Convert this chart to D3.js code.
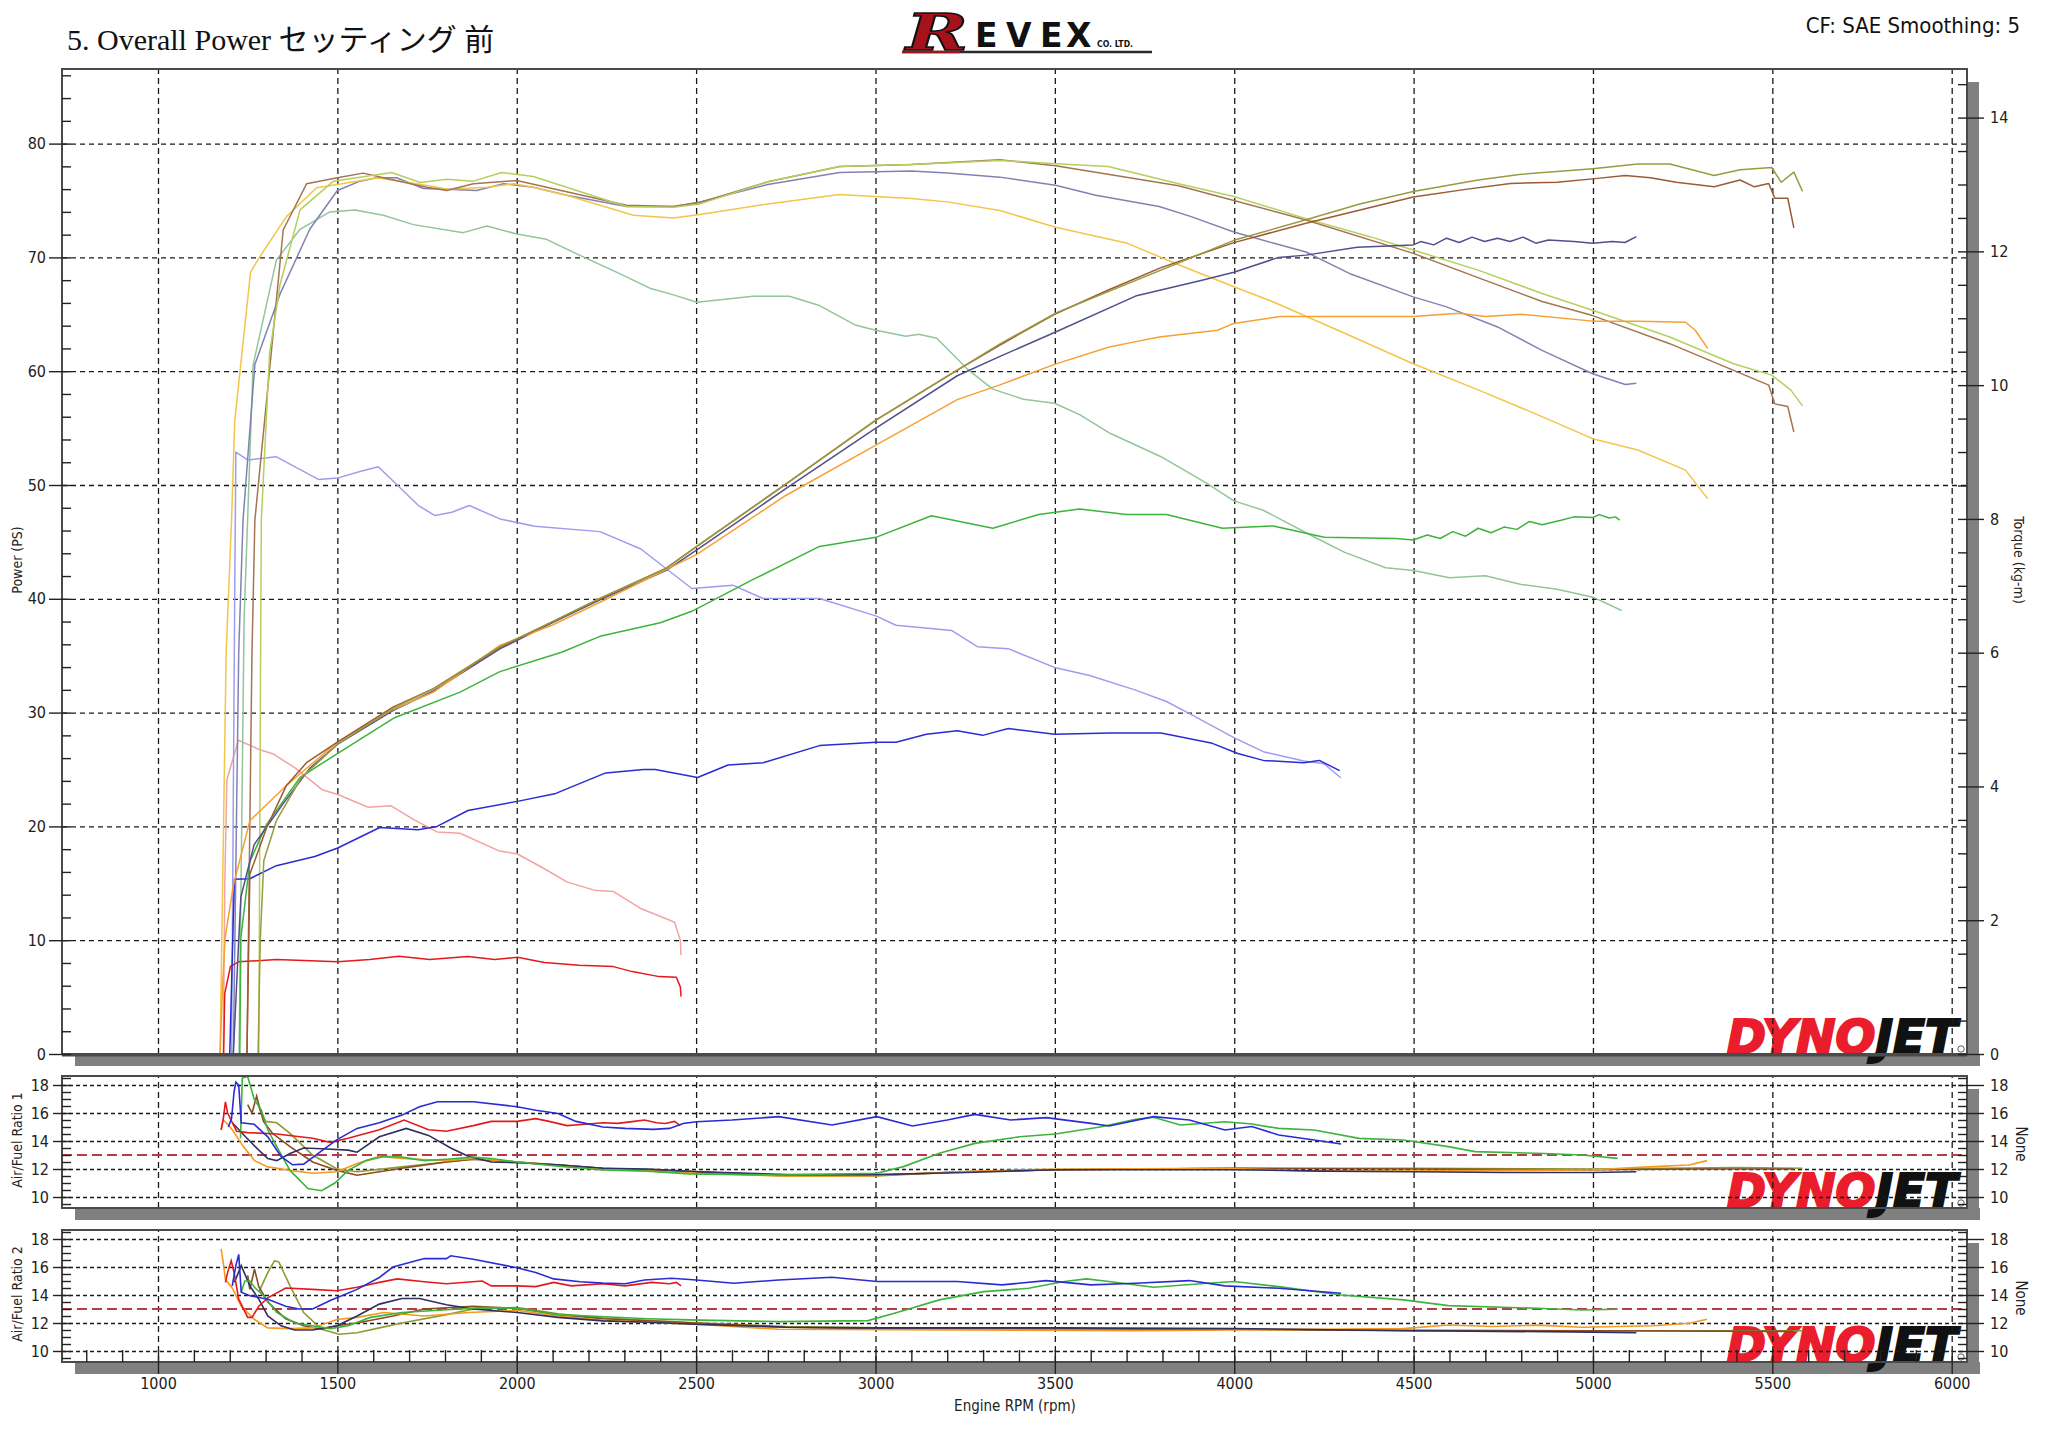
<!DOCTYPE html>
<html><head><meta charset="utf-8">
<script src="https://cdn.jsdelivr.net/npm/d3@7"></script>
<style>body{margin:0;background:#fff}svg{display:block}</style>
</head><body>
<svg id="c" width="2048" height="1448"></svg>
<script>
// ---------------- DATA (rpm, value) ----------------
const rpmTicks = [1000,1500,2000,2500,3000,3500,4000,4500,5000,5500,6000];
const powerTicks = [0,10,20,30,40,50,60,70,80];
const torqueTicks = [0,2,4,6,8,10,12,14];
const afrTicks = [10,12,14,16,18];
const afrTarget = 13;

const runNames = ["red","blue","green","navy","orange","brown","olive"];

// Power (PS)
const powerRed = [[1183,0],[1186,5.3],[1202,7.7],[1224,8.1],[1330,8.3],[1501,8.1],[1590,8.3],[1672,8.6],[1757,8.3],[1864,8.56],[1938,8.3],[2002,8.5],[2077,8.05],[2173,7.8],[2269,7.68],[2322,7.24],[2397,6.8],[2445,6.74],[2456,5.9],[2458,5.04]];
const powerBlue = [[1200,0],[1210,12],[1213,15.35],[1256,15.4],[1330,16.55],[1437,17.35],[1501,18.1],[1618,19.9],[1725,19.7],[1778,20.0],[1864,21.4],[2002,22.2],[2109,22.9],[2248,24.7],[2354,25.0],[2386,25.0],[2504,24.3],[2589,25.4],[2687,25.6],[2844,27.1],[3001,27.4],[3057,27.4],[3142,28.1],[3228,28.4],[3299,28.0],[3370,28.6],[3499,28.1],[3654,28.2],[3796,28.2],[3939,27.3],[4010,26.4],[4081,25.8],[4194,25.6],[4237,25.8],[4294,24.9]];
const powerGreen = [[1228,0],[1231,10.2],[1256,16.9],[1303,20.2],[1396,24.3],[1500,26.4],[1656,29.5],[1842,31.8],[1953,33.6],[2125,35.3],[2232,36.7],[2400,37.9],[2488,38.9],[2659,41.7],[2844,44.6],[3001,45.4],[3156,47.3],[3327,46.2],[3455,47.4],[3569,47.9],[3700,47.4],[3811,47.4],[3967,46.2],[4109,46.4],[4251,45.4],[4451,45.3],[4499,45.17],[4538,45.6],[4574,45.3],[4609,45.9],[4645,45.5],[4680,46.2],[4716,45.8],[4752,46.3],[4788,46.1],[4823,46.8],[4858,46.5],[4911,46.9],[4947,47.2],[4999,47.15],[5018,47.4],[5045,47.1],[5063,47.2],[5075,46.9]];
const powerNavy = [[1210,0],[1222,8],[1231,13.8],[1268,18.4],[1349,22.0],[1423,25.1],[1500,27.2],[1656,30.2],[1768,31.9],[1953,35.6],[2100,37.9],[2232,39.9],[2417,42.5],[2502,44.3],[2751,49.7],[3001,55.0],[3228,59.6],[3347,61.3],[3499,63.4],[3725,66.6],[3910,68.0],[3999,68.7],[4124,70.0],[4200,70.2],[4343,70.9],[4499,71.1],[4520,71.39],[4556,71.1],[4592,71.69],[4627,71.31],[4663,71.78],[4698,71.39],[4734,71.69],[4769,71.39],[4805,71.78],[4841,71.25],[4876,71.53],[4947,71.39],[4999,71.25],[5054,71.39],[5089,71.31],[5121,71.83]];
const powerOrange = [[1173,0],[1180,6],[1187,10.2],[1210,14.8],[1256,20.5],[1358,23.6],[1500,27.4],[1656,30.3],[1768,31.8],[1953,35.9],[2100,37.7],[2232,39.7],[2502,43.9],[2751,49.1],[3001,53.5],[3228,57.5],[3347,58.8],[3499,60.6],[3649,62.1],[3725,62.6],[3791,63.0],[3953,63.6],[3999,64.2],[4129,64.8],[4300,64.8],[4499,64.8],[4627,65.1],[4700,64.8],[4800,65.0],[4999,64.4],[5125,64.4],[5258,64.3],[5285,63.6],[5320,62.0]];
const powerBrown = [[1248,0],[1252,8],[1256,15.8],[1303,19.9],[1358,23.6],[1414,25.6],[1500,27.4],[1656,30.5],[1768,32.1],[1953,35.7],[2100,38.0],[2232,40.0],[2417,42.7],[2502,44.6],[2751,50.1],[3001,55.7],[3228,60.1],[3347,62.3],[3499,65.0],[3654,67.2],[3796,69.1],[3999,71.3],[4200,73.0],[4499,75.3],[4650,76.0],[4770,76.5],[4900,76.6],[4999,76.9],[5090,77.2],[5160,77.0],[5232,76.6],[5338,76.2],[5410,76.8],[5450,76.2],[5490,76.5],[5507,75.2],[5543,75.2],[5560,72.6]];
const powerOlive = [[1279,0],[1285,10],[1295,17],[1330,20.5],[1400,24.3],[1500,27.2],[1656,30.4],[1768,32.1],[1953,35.8],[2100,38.0],[2232,40.05],[2417,42.7],[2502,44.6],[2751,50.1],[3001,55.7],[3228,60.1],[3347,62.4],[3502,65.1],[3999,71.5],[4200,73.3],[4350,74.7],[4499,75.8],[4680,76.8],[4800,77.3],[4999,77.8],[5125,78.2],[5214,78.2],[5338,77.2],[5410,77.7],[5498,77.9],[5525,76.6],[5560,77.5],[5584,75.8]];

// Torque (kg-m)
const torqueRed = [[1182,0],[1186,2.5],[1192,4.10],[1224,4.69],[1288,4.54],[1320,4.49],[1384,4.27],[1458,3.95],[1501,3.88],[1586,3.69],[1650,3.71],[1714,3.50],[1778,3.32],[1842,3.30],[1949,3.04],[2002,2.99],[2077,2.77],[2141,2.57],[2216,2.45],[2269,2.43],[2344,2.18],[2440,1.97],[2456,1.70],[2458,1.48]];
const torqueBlue = [[1205,0],[1214,7.0],[1217,9.0],[1251,8.88],[1329,8.93],[1447,8.59],[1500,8.61],[1563,8.71],[1614,8.78],[1726,8.20],[1772,8.05],[1819,8.10],[1868,8.20],[1953,8.0],[2050,7.89],[2232,7.81],[2346,7.55],[2488,6.96],[2602,7.01],[2687,6.81],[2844,6.81],[3001,6.55],[3057,6.41],[3213,6.33],[3284,6.09],[3370,6.06],[3499,5.78],[3597,5.66],[3725,5.44],[3811,5.27],[3882,5.07],[3999,4.73],[4081,4.52],[4194,4.38],[4250,4.34],[4297,4.13]];
const torqueGreen = [[1226,0],[1240,6.5],[1265,10.3],[1330,11.87],[1396,12.33],[1479,12.59],[1549,12.62],[1628,12.54],[1712,12.40],[1851,12.28],[1917,12.38],[2000,12.26],[2083,12.18],[2176,11.94],[2278,11.69],[2371,11.45],[2437,11.35],[2502,11.24],[2659,11.33],[2760,11.33],[2844,11.19],[2943,10.90],[3001,10.82],[3085,10.73],[3120,10.76],[3171,10.70],[3256,10.24],[3327,9.94],[3412,9.79],[3499,9.73],[3569,9.56],[3654,9.28],[3796,8.93],[3924,8.53],[3999,8.27],[4081,8.13],[4223,7.73],[4308,7.50],[4422,7.27],[4500,7.23],[4600,7.12],[4700,7.15],[4800,7.02],[4900,6.95],[5000,6.83],[5080,6.63]];
const torqueNavy = [[1210,0],[1225,6.0],[1237,7.98],[1270,10.31],[1340,11.36],[1423,12.33],[1500,12.91],[1563,13.05],[1610,13.10],[1665,13.10],[1740,12.94],[1805,12.93],[1888,12.91],[1963,13.01],[2046,12.96],[2139,12.84],[2306,12.67],[2437,12.67],[2511,12.74],[2700,13.0],[2900,13.18],[3100,13.2],[3200,13.17],[3347,13.11],[3502,12.99],[3614,12.84],[3791,12.67],[3880,12.52],[3999,12.29],[4111,12.12],[4200,11.99],[4321,11.67],[4499,11.32],[4592,11.17],[4734,10.87],[4858,10.52],[4999,10.17],[5090,10.01],[5121,10.03]];
const torqueOrange = [[1173,0],[1190,6.0],[1205,7.98],[1214,9.47],[1258,11.69],[1284,11.92],[1358,12.52],[1442,12.95],[1500,13.0],[1610,13.10],[1721,13.01],[1810,12.93],[1917,12.96],[1991,13.01],[2046,12.96],[2139,12.84],[2232,12.69],[2325,12.54],[2437,12.50],[2511,12.55],[2700,12.71],[2900,12.85],[3100,12.79],[3200,12.74],[3347,12.61],[3502,12.36],[3702,12.12],[3845,11.8],[3999,11.47],[4111,11.24],[4289,10.82],[4499,10.32],[4680,9.93],[4858,9.53],[4999,9.20],[5125,9.03],[5258,8.73],[5320,8.30]];
const torqueBrown = [[1248,0],[1262,6.0],[1270,7.98],[1340,11.82],[1349,12.32],[1414,13.01],[1500,13.10],[1572,13.17],[1628,13.10],[1749,12.96],[1805,12.91],[1879,13.01],[2000,13.06],[2139,12.89],[2306,12.69],[2437,12.67],[2511,12.73],[2700,13.04],[2900,13.27],[3100,13.3],[3347,13.37],[3502,13.28],[3845,12.98],[3999,12.76],[4200,12.47],[4499,11.97],[4698,11.57],[4858,11.25],[4999,11.04],[5214,10.62],[5392,10.22],[5490,10.0],[5507,9.72],[5543,9.68],[5560,9.3]];
const torqueOlive = [[1281,0],[1286,6.0],[1288,7.98],[1311,10.48],[1340,11.5],[1396,12.62],[1489,13.05],[1651,13.18],[1731,13.03],[1805,13.08],[1879,13.05],[1958,13.18],[2046,13.12],[2139,12.96],[2306,12.67],[2437,12.66],[2511,12.71],[2700,13.04],[2900,13.27],[3100,13.3],[3347,13.36],[3502,13.31],[3649,13.27],[3845,13.01],[3999,12.82],[4200,12.49],[4378,12.22],[4499,12.02],[4680,11.72],[4858,11.37],[4999,11.12],[5214,10.72],[5392,10.32],[5498,10.15],[5551,9.93],[5584,9.69]];

// Air/Fuel Ratio 1
const afr1Red = [[1176,14.8],[1182,15.6],[1188,16.8],[1194,16.0],[1219,14.7],[1250,14.6],[1331,14.5],[1431,14.2],[1480,13.9],[1530,14.2],[1617,14.8],[1686,15.5],[1754,14.8],[1804,14.7],[1879,15.1],[1929,15.4],[2001,15.4],[2053,15.6],[2090,15.4],[2140,15.1],[2190,15.2],[2240,15.3],[2282,15.26],[2327,15.4],[2356,15.5],[2390,15.3],[2414,15.25],[2440,15.4],[2456,15.1]];
const afr1Blue = [[1196,15.0],[1205,15.6],[1212,17.5],[1217,18.2],[1225,18.0],[1232,15.3],[1268,15.2],[1306,14.3],[1343,12.9],[1375,12.3],[1406,12.35],[1456,13.3],[1499,14.1],[1555,14.9],[1617,15.3],[1680,15.85],[1729,16.45],[1779,16.8],[1879,16.8],[2001,16.45],[2053,16.2],[2115,15.97],[2165,15.4],[2240,15.0],[2302,14.9],[2381,14.83],[2426,14.9],[2464,15.25],[2501,15.38],[2600,15.5],[2730,15.74],[2879,15.14],[3004,15.74],[3103,15.07],[3200,15.5],[3277,15.9],[3377,15.5],[3476,15.67],[3601,15.26],[3651,15.07],[3775,15.74],[3875,15.5],[3974,14.79],[4049,15.03],[4124,14.43],[4223,14.07],[4298,13.79]];
const afr1Green = [[1230,14.2],[1235,18.5],[1250,18.6],[1268,17.0],[1288,16.2],[1306,14.8],[1331,13.6],[1368,11.9],[1418,10.6],[1456,10.45],[1493,11.0],[1530,11.9],[1580,12.6],[1630,12.9],[1680,12.85],[1742,12.6],[1804,12.7],[1879,12.85],[1929,12.75],[2001,12.5],[2115,12.2],[2240,11.93],[2364,11.85],[2481,11.65],[2730,11.57],[3004,11.7],[3078,12.17],[3178,13.12],[3277,13.83],[3402,14.3],[3501,14.5],[3626,15.0],[3725,15.55],[3775,15.7],[3850,15.14],[3974,15.38],[4049,15.21],[4124,14.9],[4223,14.79],[4348,14.19],[4472,14.07],[4597,13.6],[4671,13.24],[4845,13.12],[4970,13.0],[5069,12.76]];
const afr1Navy = [[1207,15.3],[1244,14.3],[1281,13.35],[1306,12.75],[1331,12.6],[1368,13.1],[1406,13.5],[1456,13.45],[1530,13.35],[1555,13.2],[1617,14.3],[1692,14.9],[1754,14.4],[1816,13.5],[1866,12.9],[1929,12.5],[2001,12.45],[2115,12.3],[2240,12.05],[2364,12.0],[2511,11.8],[2750,11.6],[3000,11.6],[3250,11.75],[3500,11.95],[3750,11.95],[4000,11.95],[4250,11.85],[4500,11.8],[4750,11.75],[5000,11.75],[5121,11.8]];
const afr1Orange = [[1176,14.8],[1182,15.5],[1194,15.2],[1207,14.8],[1238,13.6],[1269,12.6],[1306,12.15],[1368,11.9],[1431,11.7],[1499,11.8],[1555,12.4],[1617,12.9],[1680,12.75],[1804,12.6],[1879,12.75],[2001,12.5],[2240,12.0],[2511,11.7],[2730,11.5],[2979,11.5],[3228,11.8],[3476,11.98],[3974,12.05],[4223,11.85],[4472,11.85],[4800,11.9],[5000,11.95],[5169,12.17],[5268,12.29],[5318,12.6]];
const afr1Brown = [[1250,16.6],[1262,16.0],[1275,17.2],[1282,16.5],[1294,15.4],[1319,14.55],[1368,13.6],[1431,12.5],[1499,11.9],[1555,11.55],[1617,11.8],[1680,12.05],[1804,12.5],[1879,12.7],[2001,12.5],[2240,12.05],[2511,11.78],[2750,11.55],[3000,11.55],[3250,11.8],[3500,11.95],[4000,12.05],[4500,12.0],[5000,11.95],[5300,12.0],[5560,12.0]];
const afr1Olive = [[1281,16.45],[1290,15.9],[1300,15.4],[1331,15.3],[1368,14.55],[1431,13.0],[1499,12.0],[1555,11.8],[1680,12.15],[1804,12.5],[1879,12.7],[2001,12.5],[2240,12.05],[2511,11.8],[2750,11.5],[3000,11.5],[3250,11.8],[3500,11.95],[4000,12.05],[4500,12.05],[5000,12.0],[5400,12.1],[5584,12.05]];

// Air/Fuel Ratio 2
const afr2Red = [[1188,14.9],[1194,15.6],[1204,16.45],[1212,15.6],[1225,13.7],[1250,12.4],[1262,12.4],[1281,13.2],[1306,13.8],[1356,14.5],[1431,14.4],[1499,14.3],[1555,14.55],[1617,14.9],[1667,15.15],[1742,14.95],[1804,14.8],[1904,15.0],[1929,14.65],[2001,14.65],[2053,14.6],[2103,14.9],[2152,14.65],[2240,14.8],[2302,14.65],[2376,14.9],[2426,14.8],[2445,14.9],[2458,14.65]];
const afr2Blue = [[1207,14.65],[1217,16.1],[1225,16.9],[1232,14.2],[1256,13.95],[1306,13.7],[1356,13.2],[1393,13.0],[1431,13.0],[1480,13.6],[1555,14.4],[1617,15.25],[1655,16.0],[1742,16.6],[1804,16.6],[1816,16.8],[1879,16.55],[2001,15.95],[2053,15.6],[2103,15.15],[2177,14.95],[2240,14.85],[2302,14.8],[2356,15.07],[2431,15.2],[2501,15.07],[2605,14.84],[2730,15.07],[2879,15.27],[3004,14.96],[3228,14.96],[3352,14.72],[3476,15.03],[3601,14.72],[3725,14.84],[3875,15.03],[3974,14.65],[4124,14.48],[4298,14.12]];
const afr2Green = [[1232,14.2],[1242,15.0],[1256,15.0],[1269,14.55],[1294,13.95],[1331,12.75],[1381,12.0],[1431,11.8],[1480,11.6],[1530,11.8],[1592,12.4],[1680,12.75],[1804,12.95],[1904,13.1],[2001,13.05],[2115,12.6],[2232,12.46],[2364,12.3],[2481,12.22],[2730,12.1],[2979,12.17],[3053,12.7],[3178,13.65],[3302,14.24],[3427,14.48],[3526,14.96],[3588,15.15],[3651,14.96],[3775,14.55],[3925,14.84],[3999,14.96],[4124,14.6],[4298,14.0],[4472,13.65],[4597,13.24],[4845,13.05],[4970,12.93],[5069,12.98]];
const afr2Navy = [[1213,14.9],[1232,16.1],[1256,14.65],[1281,13.7],[1306,12.5],[1343,11.8],[1381,11.5],[1431,11.5],[1499,11.8],[1555,12.5],[1617,13.35],[1680,13.75],[1729,13.75],[1804,13.3],[1879,13.0],[2001,12.75],[2115,12.4],[2240,12.15],[2364,12.05],[2511,11.9],[2750,11.7],[3000,11.65],[3500,11.65],[4000,11.6],[4500,11.45],[5000,11.35],[5121,11.3]];
const afr2Orange = [[1176,17.3],[1182,16.3],[1188,15.1],[1207,14.5],[1232,13.2],[1269,12.25],[1306,11.65],[1368,11.6],[1431,11.65],[1499,12.25],[1555,12.4],[1630,12.75],[1742,12.5],[1866,12.75],[2001,12.9],[2115,12.5],[2240,12.2],[2511,11.9],[2730,11.55],[3228,11.5],[3725,11.45],[4223,11.55],[4472,11.6],[4597,11.86],[4720,11.75],[4845,11.85],[4970,11.7],[5169,11.8],[5268,11.98],[5318,12.27]];
const afr2Brown = [[1250,15.4],[1256,14.4],[1269,15.85],[1281,14.6],[1306,13.5],[1356,12.3],[1406,11.8],[1456,11.55],[1499,11.8],[1555,12.0],[1655,12.5],[1742,13.0],[1879,13.2],[2001,13.05],[2115,12.6],[2240,12.3],[2511,11.97],[2750,11.7],[3000,11.6],[3500,11.6],[4000,11.55],[4500,11.45],[5000,11.45],[5560,11.4]];
const afr2Olive = [[1281,14.2],[1306,15.6],[1325,16.45],[1337,16.35],[1368,14.65],[1406,12.75],[1456,11.55],[1505,11.2],[1555,11.3],[1617,11.65],[1680,12.0],[1804,12.6],[1879,13.0],[2001,13.1],[2115,12.65],[2240,12.35],[2511,12.0],[2750,11.75],[3000,11.65],[3500,11.6],[4000,11.55],[4500,11.5],[5000,11.45],[5584,11.45]];

// ---------------- STYLE ----------------
const colors = {
  red:   {power:"#e31a1c", torque:"#f2a3a3", afr:"#e31a1c"},
  blue:  {power:"#2b2bd6", torque:"#9d9df0", afr:"#2b2bd6"},
  green: {power:"#3cb43c", torque:"#92c59a", afr:"#3cb43c"},
  navy:  {power:"#50508c", torque:"#8282b2", afr:"#303060"},
  orange:{power:"#f7a032", torque:"#f3c548", afr:"#f39a20"},
  brown: {power:"#9c5a35", torque:"#a47454", afr:"#8b4a25"},
  olive: {power:"#9a9a40", torque:"#b6cf5c", afr:"#8f9a30"}
};
const runs = {
  red:   {power:powerRed,   torque:torqueRed,   afr1:afr1Red,   afr2:afr2Red},
  blue:  {power:powerBlue,  torque:torqueBlue,  afr1:afr1Blue,  afr2:afr2Blue},
  green: {power:powerGreen, torque:torqueGreen, afr1:afr1Green, afr2:afr2Green},
  navy:  {power:powerNavy,  torque:torqueNavy,  afr1:afr1Navy,  afr2:afr2Navy},
  orange:{power:powerOrange,torque:torqueOrange,afr1:afr1Orange,afr2:afr2Orange},
  brown: {power:powerBrown, torque:torqueBrown, afr1:afr1Brown, afr2:afr2Brown},
  olive: {power:powerOlive, torque:torqueOlive, afr1:afr1Olive, afr2:afr2Olive}
};

const svg = d3.select("#c");
const L = 62, R = 1967;
const x = d3.scaleLinear().domain([1000,6000]).range([158,1951.7]);
const yP = d3.scaleLinear().domain([0,80]).range([1054,143.6]);
const yT = d3.scaleLinear().domain([0,14]).range([1054,117.6]);
const yA1 = d3.scaleLinear().domain([10,18]).range([1197,1085]);
const yA2 = d3.scaleLinear().domain([10,18]).range([1351,1239]);
const tickFont = "'DejaVu Sans Condensed','DejaVu Sans',sans-serif";

const panels = [
  {id:"main", top:69, bottom:1054, y:yP, gridY:powerTicks.slice(1), hd:"5,4"},
  {id:"afr1", top:1076, bottom:1208, y:yA1, gridY:afrTicks, hd:"4,3"},
  {id:"afr2", top:1230, bottom:1362, y:yA2, gridY:afrTicks, hd:"4,3"}
];

const defs = svg.append("defs");
panels.forEach(p=>{
  defs.append("clipPath").attr("id","clip-"+p.id).append("rect")
    .attr("x",L).attr("y",p.top).attr("width",R-L).attr("height",p.bottom-p.top);
});

function dynojet(g, bottom){
  const t = g.append("text").attr("x",1727).attr("y",bottom-1)
    .attr("font-family","'DejaVu Sans',sans-serif").attr("font-weight","bold")
    .attr("font-style","italic").attr("font-size",47);
  t.append("tspan").attr("fill","#ea1d2c").attr("stroke","#ea1d2c").attr("stroke-width",2.2).text("DYNO");
  t.append("tspan").attr("fill","#111").attr("stroke","#111").attr("stroke-width",2.2).text("JET");
  t.attr("textLength",230).attr("lengthAdjust","spacingAndGlyphs");
  g.append("circle").attr("cx",1961).attr("cy",bottom-5).attr("r",3.2)
    .attr("fill","none").attr("stroke","#333").attr("stroke-width",0.8);
}

panels.forEach(p=>{
  const g = svg.append("g");
  g.append("rect").attr("x",R).attr("y",p.top+13).attr("width",12).attr("height",p.bottom-p.top-1).attr("fill","#808080");
  g.append("rect").attr("x",L+13).attr("y",p.bottom).attr("width",R-L).attr("height",12).attr("fill","#808080");
  g.append("rect").attr("x",L).attr("y",p.top).attr("width",R-L).attr("height",p.bottom-p.top).attr("fill","#fff");
  dynojet(g, p.bottom);
  g.append("g").attr("transform",`translate(0,${p.bottom})`)
    .call(d3.axisTop(x).tickValues(rpmTicks).tickSize(p.bottom-p.top).tickFormat(""))
    .call(a=>a.select(".domain").remove())
    .call(a=>a.selectAll("line").attr("stroke","#1a1a1a").attr("stroke-width",1.3).attr("stroke-dasharray","6,4"));
  g.append("g").attr("transform",`translate(${L},0)`)
    .call(d3.axisRight(p.y).tickValues(p.gridY).tickSize(R-L).tickFormat(""))
    .call(a=>a.select(".domain").remove())
    .call(a=>a.selectAll("line").attr("stroke","#1a1a1a").attr("stroke-width",1.3).attr("stroke-dasharray",p.hd));
});

[yA1,yA2].forEach(y=>{
  svg.append("line").attr("x1",L).attr("x2",R).attr("y1",y(afrTarget)).attr("y2",y(afrTarget))
    .attr("stroke","#b83a48").attr("stroke-width",2).attr("stroke-dasharray","10,5");
});

const lineP = d3.line().x(d=>x(d[0])).y(d=>yP(d[1]));
const lineT = d3.line().x(d=>x(d[0])).y(d=>yT(d[1]));
const lineA1 = d3.line().x(d=>x(d[0])).y(d=>yA1(d[1]));
const lineA2 = d3.line().x(d=>x(d[0])).y(d=>yA2(d[1]));
const gm = svg.append("g").attr("clip-path","url(#clip-main)").attr("fill","none").attr("stroke-width",1.5).attr("stroke-linejoin","round");
runNames.forEach(n=>{ gm.append("path").attr("d",lineT(runs[n].torque)).attr("stroke",colors[n].torque); });
runNames.forEach(n=>{ gm.append("path").attr("d",lineP(runs[n].power)).attr("stroke",colors[n].power); });
const ga1 = svg.append("g").attr("clip-path","url(#clip-afr1)").attr("fill","none").attr("stroke-width",1.6);
const ga2 = svg.append("g").attr("clip-path","url(#clip-afr2)").attr("fill","none").attr("stroke-width",1.6);
["olive","brown","orange","navy","green","red","blue"].forEach(n=>{
  ga1.append("path").attr("d",lineA1(runs[n].afr1)).attr("stroke",colors[n].afr);
  ga2.append("path").attr("d",lineA2(runs[n].afr2)).attr("stroke",colors[n].afr);
});

panels.forEach(p=>{
  svg.append("rect").attr("x",L).attr("y",p.top).attr("width",R-L).attr("height",p.bottom-p.top)
    .attr("fill","none").attr("stroke","#4a4a4a").attr("stroke-width",2);
});
svg.append("line").attr("x1",L).attr("x2",R).attr("y1",1055).attr("y2",1055).attr("stroke","#4a4a4a").attr("stroke-width",3);

function styleAxis(a, fs){
  a.select(".domain").remove();
  a.selectAll("line").attr("stroke","#222").attr("stroke-width",1.4);
  a.selectAll("text").attr("font-family",tickFont).attr("font-size",fs).attr("fill","#222");
}
const range = (a,b,s)=>d3.range(a,b+s/2,s);
const fmt = d3.format("d");

svg.append("g").attr("transform",`translate(${L},0)`)
  .call(d3.axisLeft(yP).tickValues(powerTicks).tickSize(13).tickPadding(3).tickFormat(fmt))
  .call(a=>styleAxis(a,16));
svg.append("g").attr("transform",`translate(${L},0)`)
  .call(d3.axisRight(yP).tickValues(range(0,86,2)).tickSize(9).tickFormat(""))
  .call(a=>styleAxis(a,16));
svg.append("g").attr("transform",`translate(${R},0)`)
  .call(d3.axisRight(yT).tickValues(torqueTicks).tickSize(17).tickPadding(6).tickFormat(fmt))
  .call(a=>styleAxis(a,16));
svg.append("g").attr("transform",`translate(${R},0)`)
  .call(d3.axisLeft(yT).tickValues(range(0,14.5,0.5)).tickSize(9).tickFormat(""))
  .call(a=>styleAxis(a,16));
[yA1,yA2].forEach(y=>{
  svg.append("g").attr("transform",`translate(${L},0)`)
    .call(d3.axisLeft(y).tickValues(afrTicks).tickSize(9).tickPadding(4).tickFormat(fmt))
    .call(a=>styleAxis(a,16));
  svg.append("g").attr("transform",`translate(${L},0)`)
    .call(d3.axisRight(y).tickValues(range(9.5,18.5,0.5)).tickSize(9).tickFormat(""))
    .call(a=>styleAxis(a,16));
  svg.append("g").attr("transform",`translate(${R},0)`)
    .call(d3.axisRight(y).tickValues(afrTicks).tickSize(17).tickPadding(6).tickFormat(fmt))
    .call(a=>styleAxis(a,16));
  svg.append("g").attr("transform",`translate(${R},0)`)
    .call(d3.axisLeft(y).tickValues(range(9.5,18.5,0.5)).tickSize(9).tickFormat(""))
    .call(a=>styleAxis(a,16));
});
svg.append("g").attr("transform","translate(0,1362)")
  .call(d3.axisBottom(x).tickValues(rpmTicks).tickSize(12).tickPadding(4).tickFormat(fmt))
  .call(a=>styleAxis(a,16));
svg.append("g").attr("transform","translate(0,1362)")
  .call(d3.axisTop(x).tickValues(range(800,6000,100)).tickSize(12).tickFormat(""))
  .call(a=>styleAxis(a,16));

const lab = (txt,xx,yy,rot,fs)=>svg.append("text").attr("transform",`translate(${xx},${yy}) rotate(${rot})`)
  .attr("text-anchor","middle").attr("dominant-baseline","middle")
  .attr("font-family",tickFont).attr("font-size",fs).attr("fill","#222").text(txt);
lab("Power (PS)",18,560,-90,14);
lab("Torque (kg-m)",2018,560,90,14);
lab("Air/Fuel Ratio 1",18,1140,-90,14);
lab("Air/Fuel Ratio 2",18,1294,-90,14);
lab("None",2020,1144,90,15);
lab("None",2020,1298,90,15);
svg.append("text").attr("x",1015).attr("y",1411).attr("text-anchor","middle")
  .attr("font-family",tickFont).attr("font-size",15).attr("fill","#222").text("Engine RPM (rpm)");

svg.append("text").attr("x",67).attr("y",50)
  .attr("font-family","'Liberation Serif','Noto Sans CJK JP',serif").attr("font-size",30).attr("fill","#111")
  .text("5. Overall Power セッティング 前");
svg.append("text").attr("x",2020).attr("y",33).attr("text-anchor","end")
  .attr("font-family",tickFont).attr("font-size",22).attr("fill","#111")
  .text("CF: SAE Smoothing: 5");

// REVEX logo
const lg = svg.append("g");
lg.append("line").attr("x1",902).attr("x2",1152).attr("y1",52).attr("y2",52).attr("stroke","#2a2a2a").attr("stroke-width",2.5);
lg.append("line").attr("x1",902).attr("x2",960).attr("y1",52).attr("y2",52).attr("stroke","#a5121b").attr("stroke-width",2.5);
lg.append("text").attr("x",906).attr("y",50).attr("font-family","'DejaVu Serif',serif")
  .attr("font-weight","bold").attr("font-style","italic").attr("font-size",50)
  .attr("fill","#a5121b").attr("stroke","#111").attr("stroke-width",1.5)
  .attr("textLength",62).attr("lengthAdjust","spacingAndGlyphs").text("R");
[["E",975],["V",1006],["E",1040],["X",1066]].forEach(([c,xx])=>{
  lg.append("text").attr("x",xx).attr("y",47).attr("font-family","'DejaVu Sans',sans-serif")
    .attr("font-weight","bold").attr("font-size",33).attr("fill","#111").text(c);
});
lg.append("text").attr("x",1097).attr("y",47).attr("font-family","'DejaVu Sans',sans-serif")
  .attr("font-weight","bold").attr("font-size",8).attr("fill","#111")
  .attr("textLength",36).attr("lengthAdjust","spacingAndGlyphs").text("CO. LTD.");
</script>
</body></html>
